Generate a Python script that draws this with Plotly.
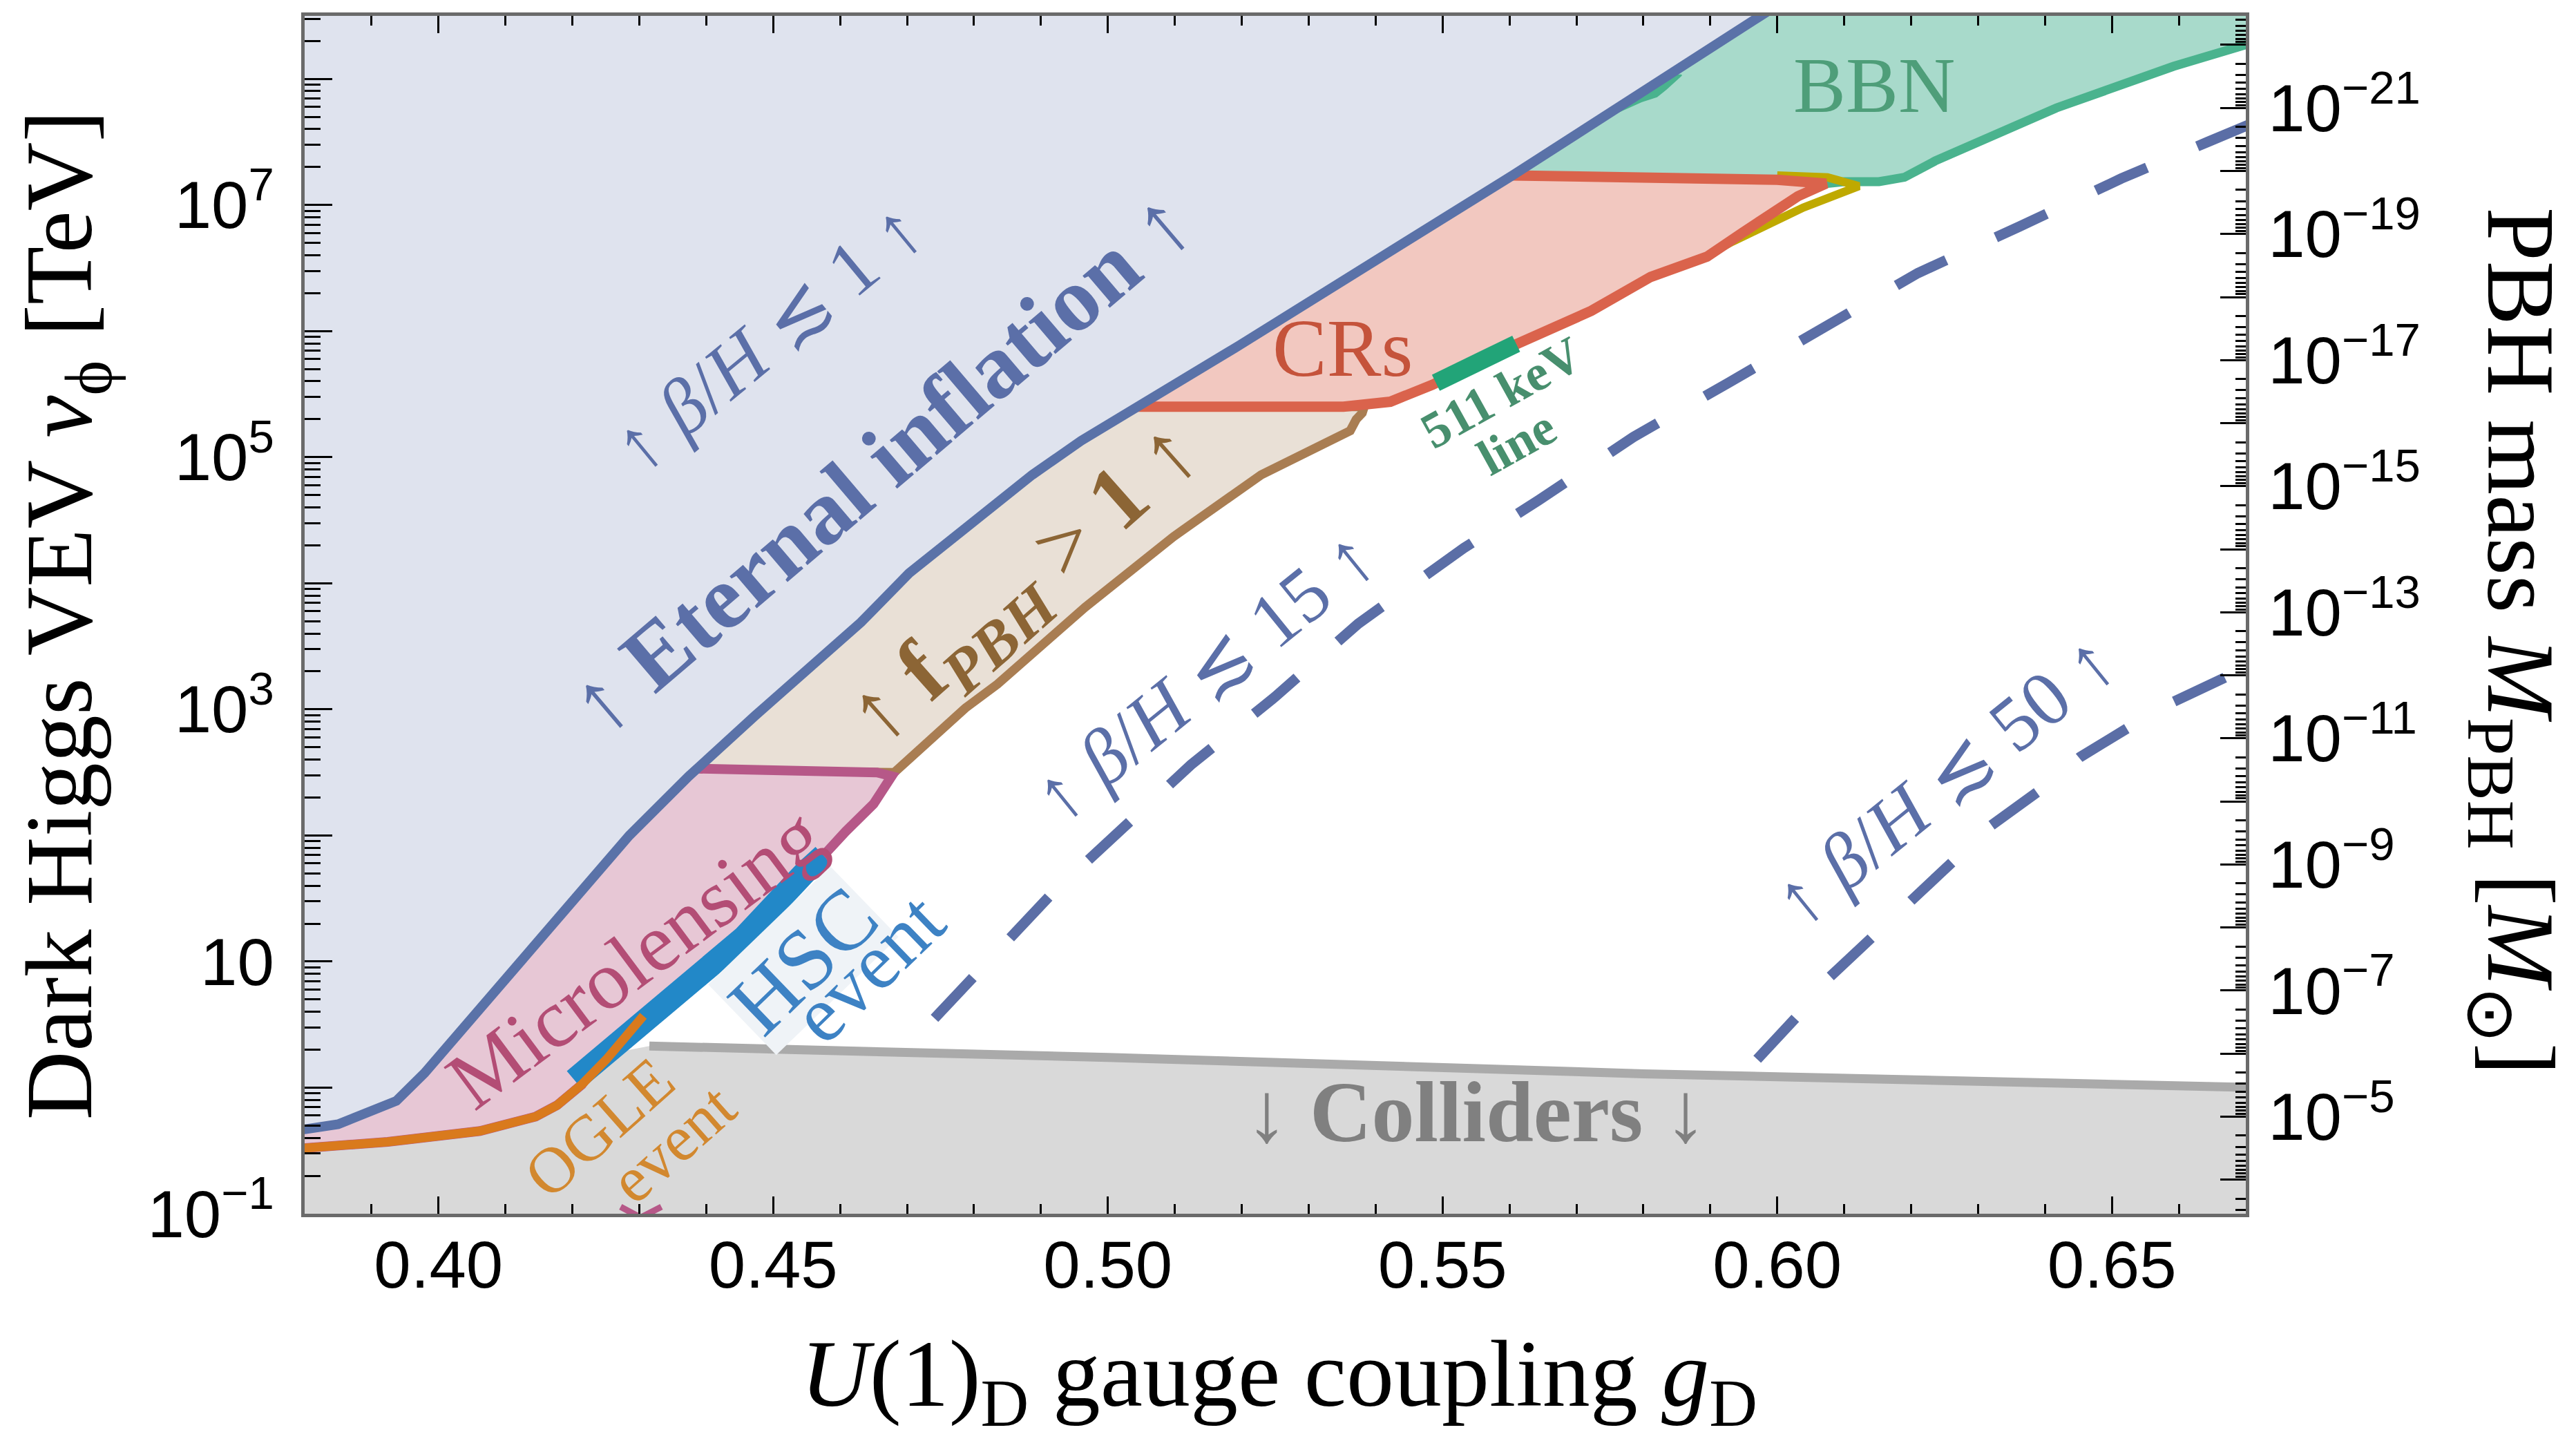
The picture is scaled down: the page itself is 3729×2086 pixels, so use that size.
import numpy as np
import plotly.graph_objects as go

# Boundaries in (gauge coupling g_D, log10 of v_phi / TeV)
inflation_g = [0.36, 0.380, 0.385, 0.3937, 0.3979, 0.3997, 0.4063, 0.4155, 0.4285, 0.4374,
               0.4473, 0.4631, 0.4703, 0.4887, 0.4960, 0.5196, 0.5606, 0.5975, 0.6125]
inflation_lv = [-0.37, -0.33, -0.29, -0.105, 0.115, 0.226, 0.61, 1.19, 2.0, 2.47,
                2.95, 3.69, 4.08, 4.86, 5.13, 5.886, 7.24, 8.50, 9.0]

micro_g = [0.36, 0.380, 0.3924, 0.4062, 0.4145, 0.4177, 0.4214, 0.4246, 0.4315, 0.4384,
           0.4456, 0.4548, 0.4575, 0.4608, 0.4650, 0.4677, 0.4655, 0.4385, 0.4200, 0.36, 0.36]
micro_lv = [-0.49, -0.479, -0.43, -0.344, -0.23, -0.14, 0.024, 0.26, 0.57, 0.88,
            1.19, 1.71, 1.84, 2.03, 2.25, 2.47, 2.50, 2.53, 2.53, 1.0, -0.49]

fpbh_g = [0.43, 0.47, 0.5383, 0.5380, 0.5371, 0.5362, 0.5229, 0.5098, 0.4966, 0.4835, 0.4787, 0.4681, 0.43]
fpbh_lv = [2.52, 5.40, 5.40, 5.35, 5.30, 5.21, 4.86, 4.37, 3.81, 3.20, 3.01, 2.50, 2.52]

crs_g = [0.49, 0.5053, 0.5352, 0.5422, 0.5485, 0.5606, 0.5722, 0.5811, 0.5895, 0.5948,
         0.6031, 0.6073, 0.600, 0.5605, 0.54, 0.49]
crs_lv = [5.40, 5.40, 5.40, 5.44, 5.575, 5.886, 6.16, 6.43, 6.59, 6.78,
          7.07, 7.17, 7.20, 7.235, 7.24, 5.40]

bbn_g = [0.59, 0.68, 0.68, 0.67, 0.6592, 0.6417, 0.6236, 0.619, 0.6152, 0.610, 0.6073, 0.600, 0.55, 0.59]
bbn_lv = [9.0, 9.0, 8.43, 8.275, 8.10, 7.77, 7.35, 7.22, 7.185, 7.185, 7.17, 7.20, 7.24, 9.0]

cr_alt_g = [0.5905, 0.5933, 0.6039, 0.6122, 0.6075, 0.600]
cr_alt_lv = [6.63, 6.71, 6.98, 7.15, 7.22, 7.235]

bbn_sliver_g = [0.5755, 0.5797, 0.5820, 0.5834, 0.5857, 0.5830, 0.5755]
bbn_sliver_lv = [7.72, 7.82, 7.86, 7.92, 8.03, 8.03, 7.72]

ogle_g = [0.36, 0.380, 0.3924, 0.4062, 0.4145, 0.4177, 0.4214, 0.4251, 0.4306]
ogle_lv = [-0.485, -0.479, -0.43, -0.344, -0.23, -0.14, 0.024, 0.225, 0.57]

hsc_g = [0.4203, 0.4246, 0.4315, 0.4384, 0.4456, 0.4548, 0.4575]
hsc_lv = [0.06, 0.26, 0.57, 0.88, 1.19, 1.71, 1.84]

line511_g = [0.5490, 0.5610]
line511_lv = [5.59, 5.90]

collider_g = [0.4315, 0.50, 0.58, 0.67, 0.68]
collider_lv = [0.33, 0.24, 0.11, 0.0, -0.01]

collider_fill_g = [0.36] + ogle_g[:7] + [0.4246, 0.4315] + collider_g[1:] + [0.68, 0.36]
collider_fill_lv = [-1.5] + ogle_lv[:7] + [0.26, 0.33] + collider_lv[1:] + [-1.5, -1.5]

beta15_g = [0.4741, 0.4913, 0.5124, 0.525, 0.5374, 0.5532, 0.5644, 0.5785, 0.5927,
            0.607, 0.621, 0.6362, 0.6514, 0.6643, 0.68]
beta15_lv = [0.55, 1.52, 2.56, 3.10, 3.68, 4.28, 4.66, 5.16, 5.59, 6.03, 6.46, 6.83, 7.21, 7.50, 7.85]

beta50_g = [0.597, 0.6027, 0.6079, 0.6142, 0.6198, 0.632, 0.639, 0.6452, 0.6523, 0.6592, 0.6668, 0.68]
beta50_lv = [0.225, 0.55, 0.88, 1.19, 1.49, 2.08, 2.35, 2.62, 2.85, 3.06, 3.25, 3.58]

mark_g = [0.4272, 0.4302, 0.4333]
mark_lv = [-0.945, -1.03, -0.945]

# Axis ticks
x_ticks = [0.40, 0.45, 0.50, 0.55, 0.60, 0.65]
x_ticktext = ["0.40", "0.45", "0.50", "0.55", "0.60", "0.65"]
x_minor = [round(0.38 + 0.01 * i, 2) for i in range(30)]

v_labelled = [-1, 1, 3, 5, 7]
v_unlabelled = [0, 2, 4, 6, 8]
m_labelled = [-21, -19, -17, -15, -13, -11, -9, -7, -5]
m_unlabelled = [-22, -20, -18, -16, -14, -12, -10, -8, -6, -4]

LOGV_RANGE = [-1.0, 8.5]
LOGM_RANGE = [-3.46, -22.46]


def v(lv):
    return np.power(10.0, np.asarray(lv, dtype=float))


def power_label(e):
    if e == 1:
        return "10"
    s = str(e).replace("-", "\u2212")
    return f"10<sup>{s}</sup>"


fig = go.Figure()


def region(g, lv, fill, color, width):
    fig.add_trace(go.Scatter(x=g, y=v(lv), mode="lines", fill="toself", fillcolor=fill,
                             line=dict(color=color, width=width), hoverinfo="skip",
                             showlegend=False))


def curve(g, lv, color, width, dash=None):
    fig.add_trace(go.Scatter(x=g, y=v(lv), mode="lines",
                             line=dict(color=color, width=width, dash=dash),
                             hoverinfo="skip", showlegend=False))


# filled regions, back to front
region(collider_fill_g, collider_fill_lv, "#d9d9d9", "rgba(0,0,0,0)", 0)
region(bbn_g, bbn_lv, "#a8dacb", "#4ab38e", 13)
curve(cr_alt_g, cr_alt_lv, "#bfa900", 12)
region(fpbh_g, fpbh_lv, "#e9e0d6", "#a97d52", 13)
region(crs_g, crs_lv, "#f2c8c0", "#da634c", 15)
region(micro_g, micro_lv, "#e7c7d5", "#b65888", 14)
region(inflation_g + [0.6125, 0.36, 0.36], inflation_lv + [9.5, 9.5, -0.37],
       "#dfe3ee", "rgba(0,0,0,0)", 0)
region(bbn_sliver_g, bbn_sliver_lv, "#4ab38e", "#4ab38e", 2)

# boundary curves and event bands
curve(inflation_g, inflation_lv, "#5a72a8", 14)
curve(collider_g, collider_lv, "#aaaaaa", 13)
curve(hsc_g, hsc_lv, "#2288c8", 34)
curve(ogle_g, ogle_lv, "#d97a1d", 13)
curve(line511_g, line511_lv, "#22a478", 26)
curve(mark_g, mark_lv, "#b65888", 9)
curve(beta15_g, beta15_lv, "#5b6ea6", 15, dash="81px,79px")
curve(beta50_g, beta50_lv, "#5b6ea6", 15, dash="81px,79px")

# carrier traces for the extra tick axes
for ax, val in (("y2", 1e-10), ("y3", 1.0), ("y4", 1e-10)):
    fig.add_trace(go.Scatter(x=[0.5], y=[val], yaxis=ax, mode="markers",
                             marker=dict(opacity=0), hoverinfo="skip", showlegend=False))

SERIF = "Liberation Serif"
SANS = "Liberation Sans"


def label(text, g, lv, angle, size, color, **kw):
    fig.add_annotation(text=text, x=g, y=lv, xref="x", yref="y", textangle=angle,
                       showarrow=False, font=dict(family=SERIF, size=size, color=color),
                       xanchor="center", yanchor="middle", **kw)


BLUE_T = "#5b6fa8"
label("\u2191 <i>\u03b2</i>/<i>H</i> \u2272 1 \u2191", 0.4492, 5.95, -39.5, 112, BLUE_T)
label("\u2191 <b>Eternal inflation</b> \u2191", 0.4660, 4.96, -40.4, 132, BLUE_T)
label("\u2191 <b>f<sub><i>PBH</i></sub></b> &gt; <b>1</b> \u2191", 0.4878, 3.98, -41.6, 130, "#8c6535")
label("CRs", 0.5351, 5.86, 0, 118, "#c5533b")
label("BBN", 0.6145, 7.95, 0, 114, "#4e9e79")
label("<b>511 keV</b>", 0.5588, 5.513, -29, 74, "#488f6e")
label("<b>line</b>", 0.5611, 5.118, -29, 74, "#488f6e")
label("\u2191 <i>\u03b2</i>/<i>H</i> \u2272 15 \u2191", 0.5144, 3.27, -39, 112, BLUE_T)
label("\u2191 <i>\u03b2</i>/<i>H</i> \u2272 50 \u2191", 0.6250, 2.44, -39, 112, BLUE_T)
label("Microlensing", 0.4293, 1.03, -36.7, 120, "#b34d75")
label("HSC", 0.4545, 1.01, -44, 124, "#3d82c4", bgcolor="#eff3f7", borderpad=2)
label("event", 0.4642, 0.95, -44, 116, "#3d82c4")
label("OGLE", 0.4240, -0.317, -41.5, 94, "#d2882f")
label("event", 0.4350, -0.443, -41.5, 94, "#d2882f")
label("\u2193 <b>Colliders</b> \u2193", 0.5550, -0.197, 0, 124, "#808080")

# axis titles
fig.add_annotation(text="Dark Higgs VEV <i>v</i><sub>\u03d5</sub> [TeV]", xref="paper", yref="paper",
                   x=-0.123, y=0.5, textangle=-90, showarrow=False,
                   font=dict(family=SERIF, size=138, color="black"), xanchor="center", yanchor="middle")
fig.add_annotation(text="<i>U</i>(1)<sub>D</sub> gauge coupling <i>g</i><sub>D</sub>", xref="paper",
                   yref="paper", x=0.502, y=-0.139, showarrow=False,
                   font=dict(family=SERIF, size=138, color="black"), xanchor="center", yanchor="middle")
fig.add_annotation(text="PBH mass <i>M</i><sub>PBH</sub> [<i>M</i><sub>\u2299</sub>]", xref="paper",
                   yref="paper", x=1.1385, y=0.478, textangle=90, showarrow=False,
                   font=dict(family=SERIF, size=140, color="black"), xanchor="center", yanchor="middle")

FRAME = "#6a6a6a"
tickfont = dict(family=SANS, size=96, color="black")
v_minor = [k * 10.0 ** e for e in range(-1, 9) for k in range(2, 10)]
m_minor = [k * 10.0 ** e for e in range(-23, -3) for k in range(2, 10)]

fig.update_layout(
    width=3729, height=2086, autosize=False,
    margin=dict(l=441, r=478, t=23, b=329, pad=0),
    paper_bgcolor="white", plot_bgcolor="white",
    showlegend=False,
    xaxis=dict(range=[0.38, 0.67], showgrid=False, zeroline=False, showline=True,
               linecolor=FRAME, linewidth=5, mirror="ticks", ticks="inside", ticklen=25,
               tickwidth=3, tickcolor="black", tickmode="array", tickvals=x_ticks,
               ticktext=x_ticktext, tickfont=tickfont, ticklabelstandoff=-13,
               minor=dict(ticks="inside", ticklen=14, tickwidth=3, tickcolor="black",
                          tickmode="array", tickvals=x_minor)),
    yaxis=dict(type="log", range=LOGV_RANGE, showgrid=False, zeroline=False, showline=True,
               linecolor=FRAME, linewidth=5, ticks="inside", ticklen=40, tickwidth=3,
               tickcolor="black", tickmode="array",
               tickvals=[10.0 ** e for e in v_labelled],
               ticktext=[power_label(e) for e in v_labelled],
               tickfont=tickfont, ticklabelstandoff=20,
               minor=dict(ticks="inside", ticklen=23, tickwidth=3, tickcolor="black",
                          tickmode="array", tickvals=v_minor)),
    yaxis3=dict(type="log", range=LOGV_RANGE, overlaying="y", side="left", showgrid=False,
                zeroline=False, showline=False, ticks="inside", ticklen=40, tickwidth=3,
                tickcolor="black", tickmode="array",
                tickvals=[10.0 ** e for e in v_unlabelled], showticklabels=False),
    yaxis2=dict(type="log", range=LOGM_RANGE, overlaying="y", side="right", showgrid=False,
                zeroline=False, showline=True, linecolor=FRAME, linewidth=5, ticks="inside",
                ticklen=37, tickwidth=3, tickcolor="black", tickmode="array",
                tickvals=[10.0 ** e for e in m_labelled],
                ticktext=[power_label(e) for e in m_labelled],
                tickfont=tickfont, ticklabelstandoff=8,
                minor=dict(ticks="inside", ticklen=15, tickwidth=3, tickcolor="black",
                           tickmode="array", tickvals=m_minor)),
    yaxis4=dict(type="log", range=LOGM_RANGE, overlaying="y", side="right", showgrid=False,
                zeroline=False, showline=False, ticks="inside", ticklen=37, tickwidth=3,
                tickcolor="black", tickmode="array",
                tickvals=[10.0 ** e for e in m_unlabelled], showticklabels=False),
)

fig.write_html("out.html")
